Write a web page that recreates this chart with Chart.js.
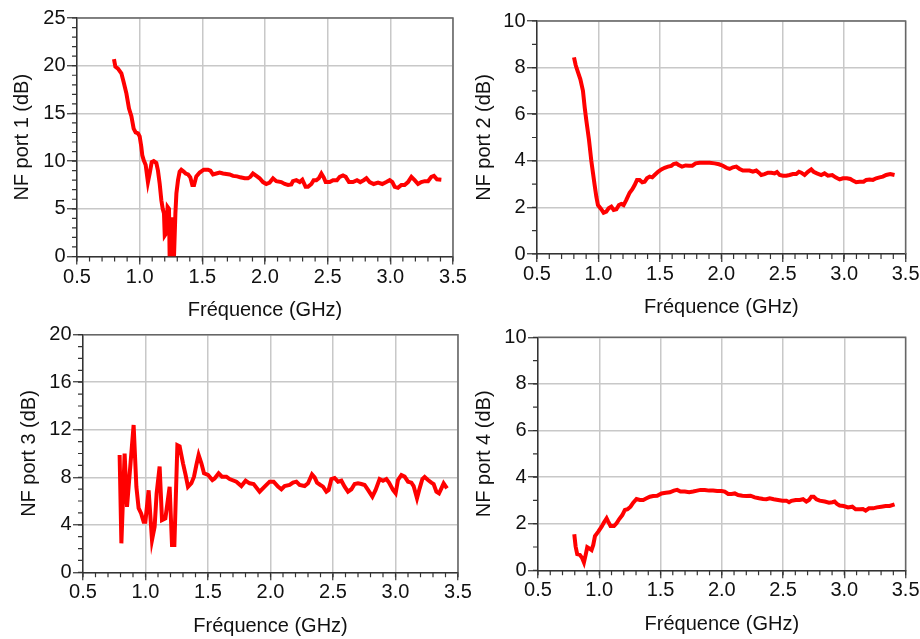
<!DOCTYPE html>
<html>
<head>
<meta charset="utf-8">
<script src="https://cdn.jsdelivr.net/npm/chart.js@4.4.1/dist/chart.umd.min.js"></script>
<style>
  html, body { margin: 0; padding: 0; background: #fff; }
  body { width: 920px; height: 639px; position: relative; overflow: hidden; }
  canvas { position: absolute; }
</style>
</head>
<body>
<canvas id="nf1" width="475" height="320" style="left:0;top:0"></canvas>
<canvas id="nf2" width="460" height="320" style="left:460px;top:0"></canvas>
<canvas id="nf3" width="475" height="319" style="left:0;top:320px"></canvas>
<canvas id="nf4" width="460" height="319" style="left:460px;top:320px"></canvas>
<script>
// ---- data (GHz / dB) ----
const xTicks = [0.5, 1.0, 1.5, 2.0, 2.5, 3.0, 3.5];

const freq1 = [0.795,0.806,0.827,0.854,0.872,0.894,0.915,0.934,0.952,0.968,0.987,1.0,1.013,1.021,1.032,1.048,1.066,1.08,1.096,1.112,
  1.133,1.146,1.16,1.173,1.184,1.194,1.2,1.21,1.223,1.234,1.239,1.25,1.258,1.266,1.274,1.285,1.293,1.306,1.319,1.332,
  1.351,1.367,1.386,1.404,1.42,1.434,1.452,1.479,1.511,1.545,1.564,1.585,1.612,1.638,1.665,1.718,1.745,1.777,1.803,1.838,
  1.864,1.883,1.904,1.931,1.957,1.984,2.01,2.037,2.064,2.09,2.13,2.157,2.184,2.21,2.223,2.25,2.277,2.298,2.324,2.343,
  2.37,2.388,2.41,2.43,2.45,2.468,2.484,2.516,2.543,2.574,2.596,2.622,2.644,2.67,2.702,2.734,2.76,2.787,2.809,2.835,
  2.867,2.902,2.936,2.968,2.995,3.016,3.035,3.061,3.088,3.114,3.141,3.168,3.194,3.221,3.247,3.274,3.301,3.327,3.348,3.372,3.407];
const nf1 = [20.7,19.9,19.7,19.2,18.3,17.1,15.5,14.7,13.4,13.0,12.9,12.6,11.5,10.6,10.1,9.6,7.8,8.7,9.9,10.0,
  9.8,9.0,7.6,5.9,5.0,4.5,2.2,2.4,5.2,5.0,0,4.1,0,4.1,0,4.5,6.6,8.0,8.9,9.1,
  8.9,8.7,8.6,8.3,7.5,7.5,8.4,8.8,9.1,9.1,9.0,8.6,8.7,8.8,8.7,8.6,8.45,8.4,8.3,8.2,
  8.2,8.35,8.7,8.45,8.2,7.8,7.6,7.75,8.2,7.9,7.8,7.6,7.5,7.55,7.9,8.0,7.8,8.05,7.3,7.3,
  7.6,8.0,8.0,8.2,8.7,8.3,7.8,7.8,8.0,8.0,8.35,8.5,8.35,7.8,7.8,8.0,7.8,8.0,8.2,7.8,
  7.6,7.75,7.6,7.8,8.0,7.8,7.3,7.2,7.5,7.5,7.8,8.35,8.0,7.6,7.8,7.9,7.9,8.35,8.45,8.1,8.05];

const freq2 = [0.801,0.815,0.834,0.853,0.874,0.888,0.901,0.923,0.942,0.956,0.969,0.983,0.996,1.023,1.042,1.064,1.083,1.105,1.124,1.146,
  1.167,1.186,1.205,1.227,1.254,1.276,1.295,1.314,1.335,1.357,1.376,1.395,1.417,1.438,1.457,1.485,1.512,1.539,1.566,1.593,
  1.612,1.634,1.653,1.68,1.71,1.737,1.764,1.791,1.824,1.864,1.905,1.946,1.981,2.013,2.041,2.068,2.095,2.122,2.149,2.176,
  2.203,2.23,2.257,2.285,2.306,2.325,2.352,2.38,2.407,2.434,2.453,2.475,2.502,2.529,2.556,2.583,2.61,2.632,2.651,2.678,
  2.705,2.732,2.751,2.778,2.813,2.84,2.868,2.903,2.93,2.963,2.99,3.022,3.05,3.071,3.098,3.125,3.158,3.18,3.207,3.234,
  3.261,3.288,3.315,3.342,3.375,3.41];
const nf2 = [8.44,8.1,7.8,7.5,7.0,6.3,5.75,4.9,4.0,3.46,2.96,2.46,2.1,1.92,1.77,1.82,1.96,2.03,1.89,1.92,
  2.1,2.15,2.1,2.32,2.63,2.78,2.96,3.18,3.18,3.08,3.1,3.25,3.32,3.29,3.39,3.53,3.63,3.7,3.75,3.78,
  3.86,3.89,3.82,3.75,3.8,3.79,3.79,3.89,3.92,3.92,3.92,3.89,3.85,3.79,3.7,3.65,3.72,3.75,3.65,3.58,
  3.58,3.58,3.53,3.58,3.49,3.39,3.43,3.49,3.49,3.46,3.52,3.39,3.36,3.36,3.39,3.43,3.43,3.53,3.49,3.39,
  3.53,3.63,3.53,3.46,3.39,3.46,3.36,3.39,3.29,3.2,3.25,3.25,3.22,3.15,3.08,3.1,3.1,3.18,3.2,3.18,
  3.25,3.29,3.32,3.39,3.43,3.39];

const freq3 = [0.793,0.807,0.833,0.852,0.905,0.927,0.945,0.965,0.985,0.999,1.025,1.052,1.073,1.089,1.113,1.132,1.159,1.193,1.212,1.231,
  1.255,1.273,1.3,1.321,1.34,1.367,1.388,1.407,1.425,1.447,1.468,1.5,1.535,1.553,1.585,1.612,1.647,1.673,1.727,1.767,
  1.801,1.833,1.865,1.913,1.953,1.993,2.025,2.06,2.087,2.113,2.153,2.18,2.207,2.233,2.273,2.3,2.332,2.353,2.372,2.399,
  2.42,2.447,2.465,2.487,2.513,2.54,2.567,2.593,2.62,2.647,2.673,2.7,2.727,2.753,2.78,2.815,2.841,2.873,2.9,2.927,
  2.948,2.98,3.001,3.02,3.047,3.073,3.1,3.127,3.145,3.172,3.193,3.215,3.233,3.26,3.287,3.305,3.327,3.348,3.367,3.385,3.412];
const nf3 = [9.87,2.44,10.0,5.5,12.4,7.2,5.4,4.96,4.26,4.26,6.9,2.72,3.84,6.65,8.9,4.4,4.54,7.2,2.3,2.3,
  10.7,10.6,9.17,8.19,7.2,7.5,8.05,9.03,9.87,9.17,8.33,8.19,7.77,7.9,8.33,8.05,8.05,7.85,7.63,7.26,
  7.71,7.49,7.43,6.79,7.21,7.63,7.63,7.21,6.99,7.26,7.35,7.55,7.63,7.35,7.26,7.49,8.24,7.99,7.55,7.35,
  7.21,6.79,6.93,7.85,7.94,7.63,7.71,7.21,6.79,6.99,7.43,7.49,7.43,7.35,6.93,6.37,6.93,7.85,7.71,7.85,
  7.55,6.93,6.65,7.77,8.19,8.05,7.63,7.55,7.26,6.23,7.07,7.85,8.02,7.77,7.55,7.43,6.79,6.65,7.07,7.49,7.07];

const freq4 = [0.796,0.807,0.82,0.842,0.861,0.875,0.889,0.902,0.918,0.937,0.951,0.965,0.992,1.019,1.038,1.06,1.073,1.092,1.12,1.141,
  1.163,1.188,1.209,1.231,1.255,1.277,1.304,1.332,1.359,1.386,1.413,1.44,1.473,1.508,1.543,1.576,1.609,1.636,1.663,1.698,
  1.734,1.766,1.799,1.826,1.861,1.897,1.929,1.962,1.997,2.024,2.052,2.079,2.106,2.133,2.168,2.201,2.234,2.269,2.304,2.337,
  2.364,2.391,2.424,2.459,2.495,2.527,2.549,2.568,2.603,2.636,2.663,2.69,2.712,2.731,2.75,2.772,2.799,2.84,2.875,2.902,
  2.921,2.94,2.962,2.995,3.03,3.065,3.092,3.125,3.152,3.174,3.201,3.234,3.266,3.302,3.337,3.37,3.41];
const nf4 = [1.55,1.02,0.69,0.66,0.52,0.34,0.66,0.99,0.94,0.87,1.09,1.47,1.66,1.87,2.05,2.23,2.09,1.9,1.9,2.02,
  2.2,2.37,2.59,2.62,2.73,2.9,3.06,3.02,3.02,3.09,3.16,3.19,3.2,3.3,3.33,3.35,3.42,3.45,3.38,3.38,
  3.35,3.38,3.42,3.45,3.45,3.42,3.42,3.4,3.4,3.38,3.28,3.28,3.3,3.23,3.2,3.19,3.2,3.13,3.09,3.06,
  3.05,3.09,3.05,3.02,2.99,2.99,2.92,2.98,3.02,3.02,3.05,2.95,3.02,3.16,3.16,3.05,2.99,2.95,2.9,2.92,
  2.95,2.85,2.78,2.76,2.7,2.73,2.62,2.62,2.63,2.56,2.66,2.66,2.7,2.73,2.76,2.76,2.83];

const FONT = "'Liberation Sans', Arial, sans-serif";

// minor ticks + top/right frame, positioned through the chart's scales
const frameAndMinorTicks = {
    id: 'frameAndMinorTicks',
    afterDraw(chart, args, opts) {
        const { ctx, chartArea: a, scales: { x, y } } = chart;
        ctx.save();
        ctx.strokeStyle = '#333';
        ctx.lineWidth = 1.2;
        ctx.beginPath();
        const nx = Math.round((x.max - x.min) / 0.1);
        for (let i = 0; i <= nx; i++) {
            const px = x.getPixelForValue(x.min + i * 0.1);
            ctx.moveTo(px, a.bottom);
            ctx.lineTo(px, a.bottom + 5);
        }
        const ny = Math.round((y.max - y.min) / opts.yMinor);
        for (let i = 0; i <= ny; i++) {
            const py = y.getPixelForValue(y.min + i * opts.yMinor);
            ctx.moveTo(a.left - 5, py);
            ctx.lineTo(a.left, py);
        }
        ctx.stroke();
        ctx.strokeStyle = '#666';
        ctx.lineWidth = 1.5;
        ctx.beginPath();
        ctx.moveTo(a.left, a.top);
        ctx.lineTo(a.right, a.top);
        ctx.lineTo(a.right, a.bottom);
        ctx.stroke();
        ctx.restore();
    }
};

function makeChart(id, freq, nf, s) {
    const points = freq.map((f, i) => ({ x: f, y: nf[i] }));
    return new Chart(document.getElementById(id), {
        type: 'line',
        data: {
            datasets: [{
                data: points,
                borderColor: '#ff0000',
                borderWidth: 4,
                pointRadius: 0,
                tension: 0,
                fill: false
            }]
        },
        options: {
            responsive: false,
            animation: false,
            layout: { padding: { top: s.padTop, right: s.padRight, left: 0, bottom: 0 } },
            plugins: {
                legend: { display: false },
                tooltip: { enabled: false },
                frameAndMinorTicks: { yMinor: s.yMinor }
            },
            scales: {
                x: {
                    type: 'linear',
                    min: 0.5,
                    max: 3.5,
                    afterBuildTicks: sc => { sc.ticks = xTicks.map(v => ({ value: v })); },
                    afterFit: sc => { sc.height = s.xHeight; },
                    ticks: {
                        callback: v => v.toFixed(1),
                        color: '#111',
                        font: { size: 20, family: FONT },
                        padding: 0.5,
                        maxRotation: 0
                    },
                    grid: { color: '#c8c8c8', lineWidth: 1.5, tickLength: 8, tickColor: '#333', tickWidth: 1.2 },
                    border: { display: true, color: '#333', width: 1.5 },
                    title: {
                        display: true,
                        text: 'Fréquence (GHz)',
                        color: '#111',
                        font: { size: 20, family: FONT, lineHeight: 1 },
                        padding: { top: 0, bottom: s.xTitlePad }
                    }
                },
                y: {
                    type: 'linear',
                    min: 0,
                    max: s.yMax,
                    afterFit: sc => { sc.width = s.yWidth; },
                    ticks: {
                        stepSize: s.yStep,
                        color: '#111',
                        font: { size: 20, family: FONT },
                        padding: 1.5
                    },
                    grid: { color: '#c8c8c8', lineWidth: 1.5, tickLength: 10, tickColor: '#333', tickWidth: 1.2 },
                    border: { display: true, color: '#333', width: 1.5 },
                    title: {
                        display: true,
                        text: s.yTitle,
                        color: '#111',
                        font: { size: 20, family: FONT, lineHeight: 1 },
                        padding: { top: s.yTitlePad, bottom: 0 }
                    }
                }
            }
        },
        plugins: [frameAndMinorTicks]
    });
}

makeChart('nf1', freq1, nf1, { yTitle: 'NF port 1 (dB)', yMax: 25, yStep: 5, yMinor: 1,
    padTop: 18, padRight: 22, yWidth: 77, xHeight: 63.5, yTitlePad: 12.5, xTitlePad: 0 });
makeChart('nf2', freq2, nf2, { yTitle: 'NF port 2 (dB)', yMax: 10, yStep: 2, yMinor: 1,
    padTop: 21, padRight: 14, yWidth: 77, xHeight: 66, yTitlePad: 14, xTitlePad: 3 });
makeChart('nf3', freq3, nf3, { yTitle: 'NF port 3 (dB)', yMax: 20, yStep: 4, yMinor: 1,
    padTop: 14.7, padRight: 17, yWidth: 83, xHeight: 66.7, yTitlePad: 19, xTitlePad: 2.3 });
makeChart('nf4', freq4, nf4, { yTitle: 'NF port 4 (dB)', yMax: 10, yStep: 2, yMinor: 1,
    padTop: 17.3, padRight: 14, yWidth: 78, xHeight: 68.7, yTitlePad: 14, xTitlePad: 5 });
</script>
</body>
</html>
